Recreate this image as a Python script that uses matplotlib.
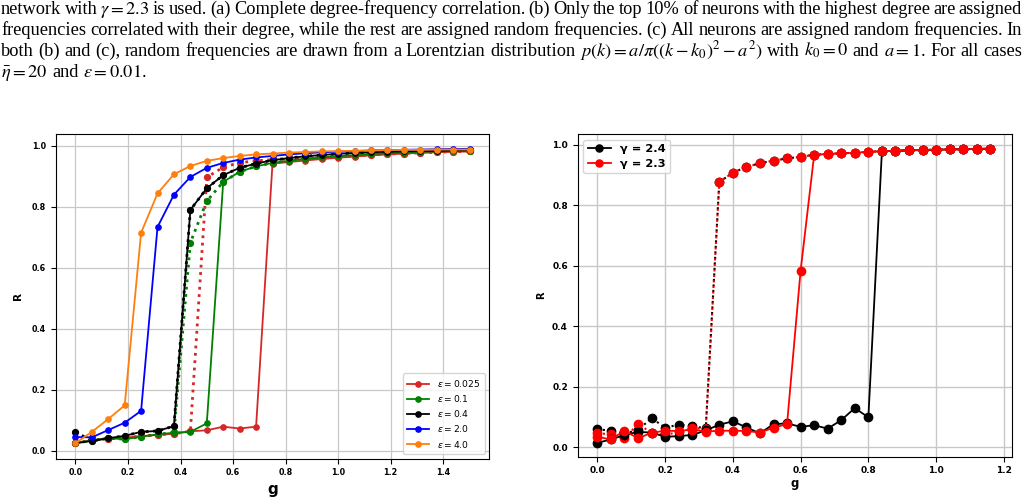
import numpy as np
import matplotlib
matplotlib.use("Agg")
import matplotlib.pyplot as plt

# caption text above the panels (justified like the paper)
caption_lines = [
    r"network with $\gamma=2.3$ is used. (a) Complete degree-frequency correlation. (b) Only the top 10% of neurons with the highest degree are assigned",
    r"frequencies correlated with their degree, while the rest are assigned random frequencies. (c) All neurons are assigned random frequencies. In",
    r"both (b) and (c), random frequencies are drawn from a Lorentzian distribution $p(k)=a/\pi((k-k_0)^2-a^2)$ with $k_0=0$ and $a=1$. For all cases",
    r"$\bar{\eta}=20$ and $\varepsilon=0.01$.",
]

# -------------------------
# left panel: R vs g for several epsilon
# -------------------------
g_left = [0.0, 0.0625, 0.125, 0.1875, 0.25, 0.3125, 0.375, 0.4375, 0.5, 0.5625,
          0.625, 0.6875, 0.75, 0.8125, 0.875, 0.9375, 1.0, 1.0625, 1.125, 1.1875,
          1.25, 1.3125, 1.375, 1.4375, 1.5]
eps_labels = [r"$\varepsilon = 0.025$", r"$\varepsilon = 0.1$", r"$\varepsilon = 0.4$",
              r"$\varepsilon = 2.0$", r"$\varepsilon = 4.0$"]

# forward sweep (solid)
R_eps_0025 = [0.025, 0.035, 0.040, 0.043, 0.048, 0.052, 0.056, 0.064, 0.067, 0.079,
              0.073, 0.079, 0.942, 0.947, 0.952, 0.957, 0.961, 0.965, 0.969, 0.972,
              0.975, 0.977, 0.979, 0.981, 0.982]
R_eps_01 = [0.025, 0.034, 0.041, 0.038, 0.046, 0.054, 0.059, 0.062, 0.090, 0.882,
            0.915, 0.933, 0.944, 0.951, 0.957, 0.962, 0.966, 0.970, 0.973, 0.976,
            0.978, 0.980, 0.982, 0.983, 0.984]
R_eps_04 = [0.025, 0.032, 0.041, 0.049, 0.062, 0.065, 0.081, 0.790, 0.861, 0.904,
            0.928, 0.942, 0.953, 0.960, 0.966, 0.970, 0.974, 0.977, 0.979, 0.981,
            0.982, 0.983, 0.984, 0.985, 0.986]
R_eps_2 = [0.045, 0.044, 0.068, 0.092, 0.131, 0.734, 0.840, 0.898, 0.928, 0.944,
           0.955, 0.962, 0.967, 0.972, 0.976, 0.979, 0.981, 0.983, 0.985, 0.986,
           0.987, 0.988, 0.989, 0.990, 0.990]
R_eps_4 = [0.025, 0.062, 0.104, 0.149, 0.715, 0.844, 0.907, 0.934, 0.951, 0.960,
           0.967, 0.972, 0.975, 0.978, 0.980, 0.982, 0.983, 0.984, 0.985, 0.986,
           0.987, 0.987, 0.988, 0.988, 0.988]

# backward sweep (dotted)
R_eps_0025_back = [0.025, 0.035, 0.040, 0.043, 0.048, 0.052, 0.056, 0.064, 0.897, 0.930,
                   0.945, 0.951, 0.955, 0.957, 0.959, 0.961, 0.964, 0.967, 0.970, 0.973,
                   0.975, 0.977, 0.979, 0.981, 0.982]
R_eps_01_back = [0.025, 0.034, 0.041, 0.038, 0.046, 0.054, 0.060, 0.683, 0.819, 0.882,
                 0.915, 0.933, 0.944, 0.951, 0.957, 0.962, 0.966, 0.970, 0.973, 0.976,
                 0.978, 0.980, 0.982, 0.983, 0.984]
R_eps_04_back = [0.062, 0.032, 0.041, 0.049, 0.062, 0.065, 0.081, 0.790, 0.861, 0.904,
                 0.928, 0.942, 0.953, 0.960, 0.966, 0.970, 0.974, 0.977, 0.979, 0.981,
                 0.982, 0.983, 0.984, 0.985, 0.986]

# -------------------------
# right panel: R vs g for two gamma
# -------------------------
g_right = [0.00, 0.04, 0.08, 0.12, 0.16, 0.20, 0.24, 0.28, 0.32, 0.36,
           0.40, 0.44, 0.48, 0.52, 0.56, 0.60, 0.64, 0.68, 0.72, 0.76,
           0.80, 0.84, 0.88, 0.92, 0.96, 1.00, 1.04, 1.08, 1.12, 1.16]
gamma_labels = ["γ = 2.4", "γ = 2.3"]

R_gam24 = [0.014, 0.025, 0.040, 0.050, 0.048, 0.034, 0.036, 0.040, 0.055, 0.074,
           0.085, 0.065, 0.045, 0.076, 0.078, 0.067, 0.072, 0.061, 0.089, 0.129,
           0.098, 0.979, 0.981, 0.982, 0.983, 0.984, 0.985, 0.986, 0.987, 0.988]
R_gam24_back = [0.059, 0.054, 0.045, 0.056, 0.096, 0.064, 0.074, 0.069, 0.062, 0.877,
                0.908, 0.927, 0.939, 0.948, 0.955, 0.961, 0.967, 0.970, 0.972, 0.974,
                0.977, 0.979, 0.980, 0.982, 0.983, 0.984, 0.985, 0.986, 0.986, 0.987]
R_gam23 = [0.034, 0.025, 0.054, 0.029, 0.047, 0.054, 0.053, 0.058, 0.051, 0.054,
           0.054, 0.053, 0.048, 0.064, 0.076, 0.584, 0.967, 0.970, 0.972, 0.974,
           0.977, 0.979, 0.980, 0.982, 0.983, 0.984, 0.985, 0.986, 0.986, 0.987]
R_gam23_back = [0.045, 0.043, 0.029, 0.076, 0.047, 0.040, 0.050, 0.062, 0.061, 0.877,
                0.908, 0.927, 0.939, 0.948, 0.955, 0.961, 0.967, 0.970, 0.972, 0.974,
                0.977, 0.979, 0.980, 0.982, 0.983, 0.984, 0.985, 0.986, 0.986, 0.987]

W, H = 1028, 500
fig = plt.figure(figsize=(W / 100, H / 100), dpi=100)
renderer = fig.canvas.get_renderer()

# justified caption, word by word
cap_size = 13.2
baselines = [14, 35, 56, 77]
for i, line in enumerate(caption_lines):
    words = line.split(" ")
    texts = [fig.text(0, 1 - baselines[i] / H, w, fontsize=cap_size,
                      family="Liberation Serif", math_fontfamily="stix",
                      va="baseline", ha="left") for w in words]
    widths = [t.get_window_extent(renderer).width for t in texts]
    if i == len(caption_lines) - 1:
        gap = cap_size * 100 / 72 * 0.25
    else:
        gap = (1021 - sum(widths)) / (len(words) - 1)
    x = 1.0
    for t, w in zip(texts, widths):
        t.set_x(x / W)
        x += w + gap

# ---- left axes ----
ax1 = fig.add_axes([55.7 / W, 1 - 458.7 / H, (489.3 - 55.7) / W, (458.7 - 134.3) / H])
colors_left = ["#d62728", "green", "black", "blue", "#ff7f0e"]
fwd = [R_eps_0025, R_eps_01, R_eps_04, R_eps_2, R_eps_4]
back = [R_eps_0025_back, R_eps_01_back, R_eps_04_back]

for R, c in zip(back, colors_left):
    ax1.plot(g_left, R, ':', color=c, marker='o', markersize=4.2, linewidth=2)
for R, c, lab in zip(fwd, colors_left, eps_labels):
    ax1.plot(g_left, R, '-', color=c, marker='o', markersize=3.8, linewidth=1.3, label=lab)

ax1.set_xlim(-0.075, 1.575)
ax1.set_ylim(-0.026, 1.038)
ax1.set_xticks(np.arange(0, 1.41, 0.2))
ax1.set_yticks(np.arange(0, 1.01, 0.2))
ax1.tick_params(labelsize=5.8)
for lab in ax1.get_xticklabels() + ax1.get_yticklabels():
    lab.set_fontweight("bold")
ax1.set_xlabel("g", fontsize=11, fontweight="bold", labelpad=3)
ax1.set_ylabel("R", fontsize=7.5, fontweight="bold", labelpad=6)
ax1.grid(True, color="#c8c8c8", linewidth=0.9)
ax1.legend(loc="lower right", prop={"size": 6.6}, handlelength=2.4,
           borderpad=0.5, labelspacing=0.45, framealpha=0.8)

# ---- right axes ----
ax2 = fig.add_axes([577.7 / W, 1 - 456.7 / H, (1012 - 577.7) / W, (456.7 - 134) / H])
ax2.plot(g_right, R_gam24_back, ':', color="black", marker='o', markersize=6, linewidth=1.5)
ax2.plot(g_right, R_gam23_back, ':', color="red", marker='o', markersize=6, linewidth=1.5)
ax2.plot(g_right, R_gam24, '-', color="black", marker='o', markersize=6, linewidth=1.3,
         label=gamma_labels[0])
ax2.plot(g_right, R_gam23, '-', color="red", marker='o', markersize=6, linewidth=1.3,
         label=gamma_labels[1])

ax2.set_xlim(-0.058, 1.224)
ax2.set_ylim(-0.032, 1.036)
ax2.set_xticks(np.arange(0, 1.21, 0.2))
ax2.set_yticks(np.arange(0, 1.01, 0.2))
ax2.tick_params(labelsize=6.5)
for lab in ax2.get_xticklabels() + ax2.get_yticklabels():
    lab.set_fontweight("bold")
ax2.set_xlabel("g", fontsize=8.5, fontweight="bold", labelpad=1)
ax2.set_ylabel("R", fontsize=7, fontweight="bold", labelpad=4)
ax2.grid(True, color="#c8c8c8", linewidth=1)
ax2.legend(loc="upper left", prop={"size": 8.2, "weight": "bold"}, handlelength=2,
           markerscale=0.85, borderpad=0.4, labelspacing=0.4, framealpha=0.8)

fig.savefig("out.png", dpi=100)
